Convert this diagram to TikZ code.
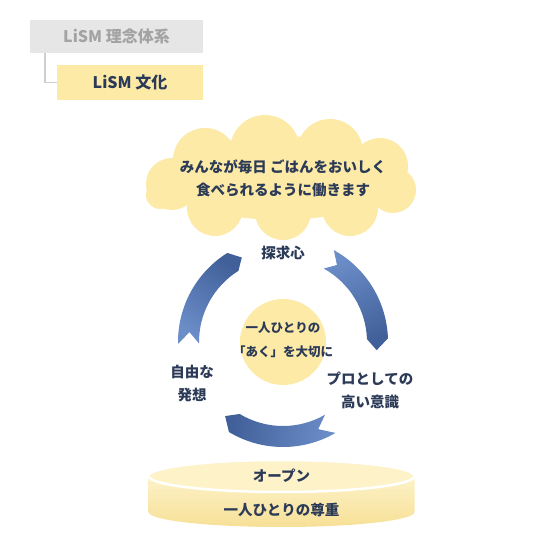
\documentclass[tikz,border=0pt]{standalone}
\usepackage{fontspec}
\newfontfamily\jp{Noto Sans CJK JP}
\usetikzlibrary{positioning, calc}

\definecolor{navy}{HTML}{2B3A57}
\definecolor{cream}{HTML}{FCEAA6}
\definecolor{creamlight}{HTML}{FDF2C8}
\definecolor{creamdark}{HTML}{F7E096}
\definecolor{boxgray}{HTML}{E6E6E6}
\definecolor{textgray}{HTML}{A3A3A3}
\definecolor{arclight}{HTML}{6B8DC8}
\definecolor{arcdark}{HTML}{41609A}

% one band of the cycle: start, end, head tip, tail notch, shading angle
\newcommand{\cyclearc}[5]{%
  \shade[top color=arcdark, bottom color=arclight, shading angle=#5]
    (#1:105) arc[start angle=#1, end angle=#2, radius=105]
    -- (#3:94) -- (#2:84)
    arc[start angle=#2, end angle=#1, radius=84]
    -- (#4:94) -- cycle;}

\begin{document}
\begin{tikzpicture}[x=1pt, y=1pt,
    titlebox/.style={rectangle, inner sep=0pt, font=\jp\bfseries\fontsize{16}{18}\selectfont},
    labeltext/.style={font=\jp\bfseries\fontsize{14.5}{23}\selectfont, text=navy, align=center},
    smalltext/.style={font=\jp\bfseries\fontsize{12.5}{24}\selectfont, text=navy, align=center},
    linkline/.style={draw=boxgray!90!black, line width=1.6pt}
  ]
    \useasboundingbox[fill=white] (0,0) rectangle (540,540);

    % Title boxes
    \node[titlebox, fill=boxgray, text=textgray, minimum width=173, minimum height=33] (philo) at (116.5,503.5) {LiSM 理念体系};
    \node[titlebox, fill=cream, text=navy, minimum width=146, minimum height=35] (culture) at (130,457.5) {LiSM 文化};
    \draw[linkline] ($(philo.south west)+(15,0)$) |- (culture.west);

    % Cloud
    \fill[cream] (280,362) ellipse[x radius=112, y radius=42];
    \foreach \cx/\cy/\r in {205/380/32, 265/390/35, 330/388/33, 380/374/28, 172/356/26,
                            393/350/23, 215/332/28, 283/328/28, 350/332/28, 160/345/14}
      \fill[cream] (\cx,\cy) circle[radius=\r];
    \node[labeltext] (motto) at (283,362) {みんなが毎日 ごはんをおいしく\\食べられるように働きます};

    % Cycle
    \begin{scope}[shift={(283,198)}]
      \cyclearc{181}{122}{116}{174}{-34}
      \cyclearc{61}{2}{-5}{55}{-155}
      \cyclearc{-60}{-121}{-128}{-68}{80}
      \fill[cream] (0,0) circle[radius=43];
    \end{scope}
    \node[smalltext] (core) at (283,200) {一人ひとりの\\「あく」を大切に};
    \node[labeltext] (quest) at (283,287) {探求心};
    \node[labeltext] (free) at (192,156) {自由な\\発想};
    \node[labeltext] (pro) at (370,150) {プロとしての\\高い意識};

    % Base cylinder
    \shade[top color=creamlight, bottom color=creamdark]
      (148.5,63) -- (148.5,28) arc[start angle=180, end angle=360, x radius=133, y radius=15]
      -- (414.5,63) -- cycle;
    \filldraw[draw=white, line width=2.5pt, fill=creamlight] (281.5,64) ellipse[x radius=133, y radius=16];
    \node[labeltext] (open) at (281.5,64) {オープン};
    \node[labeltext] (respect) at (281.5,30) {一人ひとりの尊重};
\end{tikzpicture}
\end{document}
